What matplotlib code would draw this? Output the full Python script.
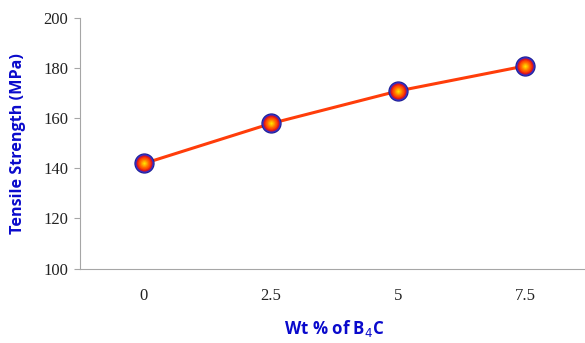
import matplotlib.pyplot as plt

# data
wt_labels = ["0", "2.5", "5", "7.5"]
tensile = [142, 158, 171, 181]
y_ticks = [100, 120, 140, 160, 180, 200]


def main():
    fig = plt.figure(figsize=(5.85, 3.43), dpi=100)
    ax = fig.add_axes([0.1376, 0.2172, 0.8684, 0.7289])

    xs = list(range(len(wt_labels)))
    ax.plot(xs, tensile, color='#FF3D0A', lw=2.2, zorder=2)

    # fake the radial gradient marker with stacked circles
    layers = [
        (14.6, '#1C1C8C'),
        (13.4, '#3030C8'),
        (11.6, '#C8102E'),
        (10.4, '#E82414'),
        (8.8, '#FF4A00'),
        (7.0, '#FF6A00'),
        (5.2, '#FF9000'),
        (3.4, '#FFB800'),
        (1.6, '#FFE000'),
    ]
    for ms, col in layers:
        ax.plot(xs, tensile, ls='none', marker='o', ms=ms, mfc=col, mec='none', zorder=3)

    ax.set_xlim(-0.5, len(wt_labels) - 0.5)
    ax.set_ylim(100, 200)
    ax.set_xticks(xs)
    ax.set_xticklabels(wt_labels)
    ax.set_yticks(y_ticks)

    for lab in ax.get_xticklabels() + ax.get_yticklabels():
        lab.set_family('Liberation Serif')
        lab.set_fontsize(12)
        lab.set_color('#222222')

    ax.tick_params(axis='x', length=0, pad=14)
    ax.tick_params(axis='y', length=4, width=0.8, color='#A6A6A6', pad=5)

    for side in ['top', 'right']:
        ax.spines[side].set_visible(False)
    for side in ['left', 'bottom']:
        ax.spines[side].set_color('#A6A6A6')
        ax.spines[side].set_linewidth(0.8)

    ax.set_ylabel("Tensile Strength (MPa)", fontsize=11.6, fontweight='bold',
                  color='#0A0ACC', family='Open Sans', labelpad=12)
    ax.set_xlabel("Wt % of B$_4$C", fontsize=12.2, fontweight='bold',
                  color='#0A0ACC', family='Open Sans', labelpad=10)

    fig.savefig("out.png", dpi=100)
    plt.close(fig)


if __name__ == "__main__":
    main()
